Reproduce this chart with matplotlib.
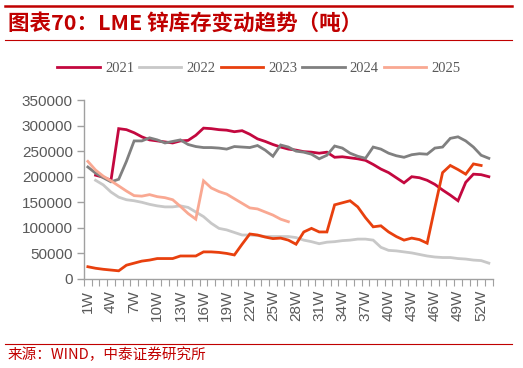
import numpy as np
import matplotlib.pyplot as plt
from matplotlib.lines import Line2D

plt.rcParams['font.family'] = ['Liberation Sans', 'DejaVu Sans']

# week index 1..53, values in thousand tonnes (None = no data)
weeks = list(range(1, 54))
tick_weeks = list(range(1, 54, 3))
tick_labels = [f'{w}W' for w in tick_weeks]

zinc_2021 = [None, 203, 199, 193, 294, 292, 286, 278, 272, 270, 268, 266, 270, 271,
             281, 295, 294, 292, 291, 288, 290, 283, 274, 269, 263, 258, 254,
             252, 249, 248, 246, 248, 238, 239, 237, 235, 232, 224, 215, 208,
             198, 188, 200, 198, 193, 185, 174, 164, 153, 189, 205, 204, 200]
zinc_2022 = [None, 193, 184, 170, 160, 155, 153, 150, 146, 143, 141, 141, 143, 140,
             131, 122, 109, 99, 96, 91, 86, 86, 85, 83, 83, 83, 83,
             81, 76, 73, 69, 72, 73, 75, 76, 78, 78, 76, 62, 56,
             55, 53, 51, 48, 45, 43, 42, 42, 40, 39, 37, 36, 31]
zinc_2023 = [24, 21, 19, 17.5, 16, 27, 31, 35, 37, 40, 40, 40, 45,
             45, 45, 53, 53, 52, 50, 47, 68, 88, 86, 82, 79, 80,
             76, 68, 92, 99, 92, 92, 145, 149, 153, 141, 120, 102, 104,
             92, 83, 76, 80, 77, 70, 140, 208, 222, 214, 205, 225, 222, None]
zinc_2024 = [219, 207, 198, 190, 195, 230, 270, 270, 276, 272, 266, 269, 272,
             263, 259, 257, 257, 256, 254, 259, 258, 257, 261, 252, 240, 262,
             258, 250, 248, 244, 235, 242, 260, 256, 246, 240, 236, 258, 254,
             246, 241, 238, 243, 245, 244, 256, 258, 275, 278, 270, 258, 242, 236]
zinc_2025 = [230, 213, 201, 192, 182, 172, 163, 162, 165, 161, 159, 155, 142,
             128, 117, 192, 178, 171, 166, 157, 148, 139, 137, 131, 125, 117, 112]

series = [
    ('2021', zinc_2021, '#C3083F'),
    ('2022', zinc_2022, '#C8C8C8'),
    ('2023', zinc_2023, '#E8400E'),
    ('2024', zinc_2024, '#808080'),
    ('2025', zinc_2025, '#F9A892'),
]

fig = plt.figure(figsize=(5.23, 3.68), dpi=100)
ax = fig.add_axes([84 / 523, 1 - 279 / 368, 408.7 / 523, 179 / 368])

handles = []
for name, vals, color in series:
    y = np.array([np.nan if v is None else v * 1000 for v in vals], dtype=float)
    ax.plot(weeks[:len(y)], y, color=color, lw=2.0, solid_joinstyle='miter')
    handles.append(Line2D([], [], color=color, lw=2.0, label=name))

ax.set_xlim(0.5, 53.5)
ax.set_ylim(0, 350000)
ax.set_yticks(np.arange(0, 350001, 50000))
ax.set_yticklabels([str(v) for v in range(0, 350001, 50000)])
ax.set_xticks(tick_weeks)
ax.set_xticklabels(tick_labels, rotation=90, va='top', ha='center')
ax.set_xticks(np.arange(0.5, 54, 1), minor=True)

for s in ['top', 'right']:
    ax.spines[s].set_visible(False)
for s in ['left', 'bottom']:
    ax.spines[s].set_color('#A0A0A0')
    ax.spines[s].set_linewidth(1.0)

ax.tick_params(axis='y', direction='out', length=5, width=1, color='#A0A0A0',
               labelsize=11, labelcolor='#595959', pad=3)
ax.tick_params(axis='x', which='major', length=0, labelsize=11,
               labelcolor='#595959', pad=8)
ax.tick_params(axis='x', which='minor', direction='out', length=5, width=0.8,
               color='#A0A0A0')

fig.legend(handles=handles, loc='center', bbox_to_anchor=(0.495, 1 - 68 / 368),
           ncol=5, frameon=False, handlelength=2.9, handletextpad=0.35,
           columnspacing=0.35, prop={'family': 'Liberation Serif', 'size': 10.5},
           labelcolor='#595959')

red = '#C00000'
fig.add_artist(Line2D([5 / 523, 512 / 523], [1 - 6 / 368] * 2, color=red, lw=1.8))
fig.add_artist(Line2D([5 / 523, 512 / 523], [1 - 40 / 368] * 2, color=red, lw=0.8))
fig.add_artist(Line2D([5 / 523, 512 / 523], [1 - 344 / 368] * 2, color=red, lw=0.8))

fig.text(8 / 523, 1 - 23 / 368, '图表70：LME 锌库存变动趋势（吨）', color=red,
         fontsize=15.5, fontweight='bold', style='italic',
         family=['Noto Sans CJK SC', 'DejaVu Sans'], ha='left', va='center')
fig.text(8 / 523, 1 - 355 / 368, '来源：WIND，中泰证券研究所', color=red,
         fontsize=10.5, family=['Noto Sans CJK SC', 'DejaVu Sans'],
         ha='left', va='center')

fig.savefig('out.png', dpi=100)
